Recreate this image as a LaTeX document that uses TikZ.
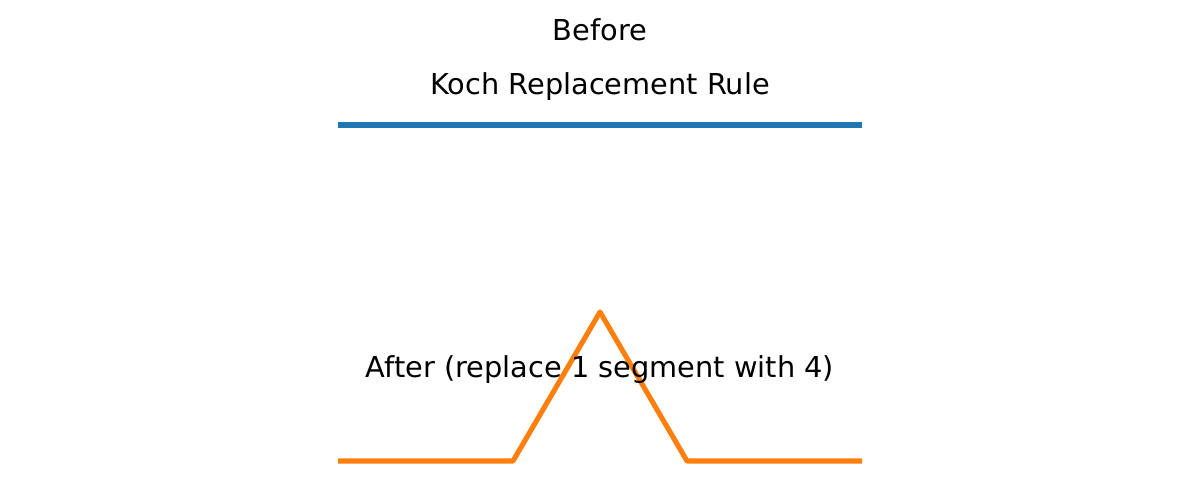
\documentclass[tikz,border=0pt]{standalone}
\usepackage{fontspec}
\setmainfont{DejaVu Sans}
\definecolor{mplblue}{HTML}{1F77B4}
\definecolor{mplorange}{HTML}{FF7F0E}
\begin{document}
\begin{tikzpicture}[x=0.02cm,y=-0.02cm,
  seg/.style={line width=2.9pt},
  lbl/.style={font=\fontsize{16.4pt}{19pt}\selectfont, inner sep=0pt, anchor=base}]
\useasboundingbox (0,0) rectangle (1200,496);
\coordinate (b1) at (338,125);
\coordinate (b2) at (862,125);
\coordinate (a1) at (338,461);
\coordinate (a2) at (513,461);
\coordinate (a3) at (600,312);
\coordinate (a4) at (687,461);
\coordinate (a5) at (862,461);
\draw[seg, mplblue] (b1) -- (b2);
\draw[seg, mplorange, line join=round] (a1) -- (a2) -- (a3) -- (a4) -- (a5);
\node[lbl] (before) at (600,40.5) {Before};
\node[lbl] (title) at (600,94.5) {Koch Replacement Rule};
\node[lbl] (after) at (600,377.5) {After (replace 1 segment with 4)};
\end{tikzpicture}
\end{document}
